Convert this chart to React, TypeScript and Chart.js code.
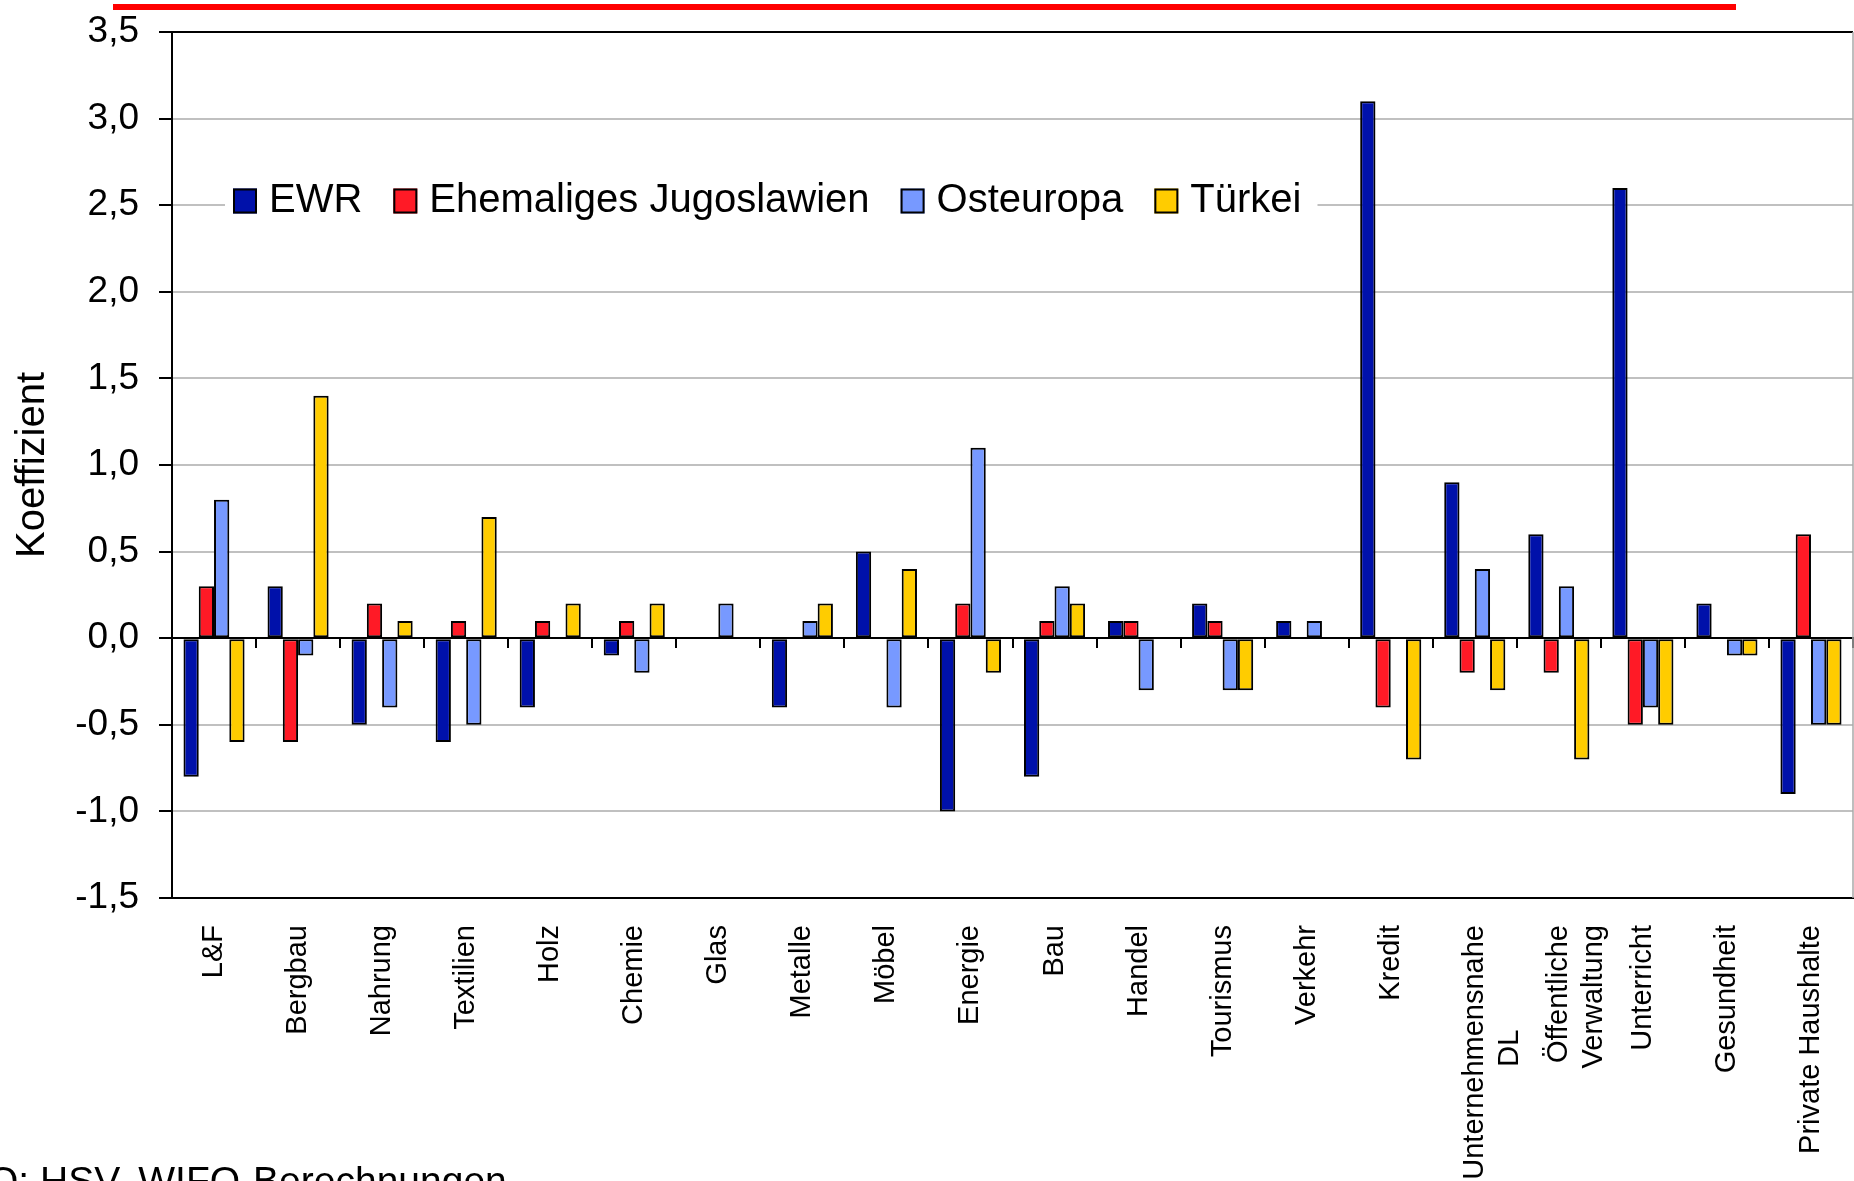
import React, { useEffect, useRef } from 'react';
import { Chart, registerables } from 'chart.js';

Chart.register(...registerables);

// ---- Data ----
const categories: (string | string[])[] = [
  'L&F', 'Bergbau', 'Nahrung', 'Textilien', 'Holz', 'Chemie', 'Glas', 'Metalle', 'Möbel',
  'Energie', 'Bau', 'Handel', 'Tourismus', 'Verkehr', 'Kredit',
  ['Unternehmensnahe', 'DL' + ' '.repeat(13)], ['Öffentliche', 'Verwaltung'],
  'Unterricht', 'Gesundheit', 'Private Haushalte',
];
const seriesNames = ['EWR', 'Ehemaliges Jugoslawien', 'Osteuropa', 'Türkei'];
const ewr = [-0.8, 0.3, -0.5, -0.6, -0.4, -0.1, 0, -0.4, 0.5, -1.0, -0.8, 0.1, 0.2, 0.1, 3.1, 0.9, 0.6, 2.6, 0.2, -0.9];
const jugoslawien = [0.3, -0.6, 0.2, 0.1, 0.1, 0.1, 0, 0, 0, 0.2, 0.1, 0.1, 0.1, 0, -0.4, -0.2, -0.2, -0.5, 0, 0.6];
const osteuropa = [0.8, -0.1, -0.4, -0.5, 0, -0.2, 0.2, 0.1, -0.4, 1.1, 0.3, -0.3, -0.3, 0.1, 0, 0.4, 0.3, -0.4, -0.1, -0.5];
const tuerkei = [-0.6, 1.4, 0.1, 0.7, 0.2, 0.2, 0, 0.2, 0.4, -0.2, 0.2, 0, -0.3, 0, -0.7, -0.3, -0.7, -0.5, -0.1, -0.5];
const seriesColors = ['#0011AA', '#FF1A26', '#7799FF', '#FFCC00'];
const yMin = -1.5;
const yMax = 3.5;
const yStep = 0.5;
const yTitle = 'Koeffizient';
const sourceText = 'Q: HSV, WIFO-Berechnungen';

const FONT = '"Liberation Sans", Arial, Helvetica, sans-serif';

const legendPlugin = {
  id: 'insideLegend',
  beforeDatasetsDraw(chart: any) {
    const { ctx, chartArea } = chart;
    ctx.save();
    ctx.font = `40px ${FONT}`;
    const boxW = 24, boxH = 25, gapText = 12, gapItem = 31;
    const startX = chartArea.left + 61;
    const cy = chartArea.top + 169;
    const items = chart.data.datasets.map((ds: any) => ({
      label: ds.label as string,
      color: ds.backgroundColor as string,
      w: ctx.measureText(ds.label).width,
    }));
    const total = items.reduce((s: number, it: any, i: number) =>
      s + boxW + gapText + it.w + (i < items.length - 1 ? gapItem : 0), 0);
    ctx.fillStyle = '#ffffff';
    ctx.fillRect(startX - 8, cy - 24, total + 24, 48);
    let x = startX;
    items.forEach((it: any) => {
      ctx.fillStyle = it.color;
      ctx.fillRect(x, cy - boxH / 2, boxW, boxH);
      ctx.lineWidth = 2;
      ctx.strokeStyle = '#000';
      ctx.strokeRect(x + 1, cy - boxH / 2 + 1, boxW - 2, boxH - 2);
      ctx.fillStyle = '#000';
      ctx.textBaseline = 'middle';
      ctx.textAlign = 'left';
      ctx.fillText(it.label, x + boxW + gapText, cy);
      x += boxW + gapText + it.w + gapItem;
    });
    ctx.restore();
  },
};

const framePlugin = {
  id: 'frame',
  beforeDatasetsDraw(chart: any) {
    const { ctx, chartArea } = chart;
    ctx.save();
    ctx.strokeStyle = '#000';
    ctx.lineWidth = 2;
    ctx.beginPath();
    ctx.moveTo(chartArea.left, chartArea.top);
    ctx.lineTo(chartArea.right, chartArea.top);
    ctx.stroke();
    ctx.strokeStyle = '#a8a8a8';
    ctx.lineWidth = 1.5;
    ctx.beginPath();
    ctx.moveTo(chartArea.right, chartArea.top);
    ctx.lineTo(chartArea.right, chartArea.bottom);
    ctx.stroke();
    ctx.restore();
  },
};

export default function App() {
  const canvasRef = useRef<HTMLCanvasElement | null>(null);

  useEffect(() => {
    if (!canvasRef.current) return;
    Chart.defaults.font.family = FONT;
    const seriesData = [ewr, jugoslawien, osteuropa, tuerkei];
    const chart = new Chart(canvasRef.current, {
      type: 'bar',
      data: {
        labels: categories,
        datasets: seriesNames.map((name, i) => ({
          label: name,
          data: seriesData[i],
          backgroundColor: seriesColors[i],
          borderColor: '#000',
          borderWidth: 2,
          borderSkipped: false,
          barPercentage: 1,
          categoryPercentage: 0.727,
        })),
      },
      options: {
        responsive: false,
        animation: false,
        layout: { padding: { top: 32, right: 1, left: 0, bottom: 0 } },
        plugins: { legend: { display: false }, tooltip: { enabled: false } },
        scales: {
          x: {
            type: 'category',
            offset: true,
            grid: { display: false, drawTicks: false },
            border: { display: true, color: '#000', width: 2 },
            ticks: {
              minRotation: 90,
              maxRotation: 90,
              autoSkip: false,
              padding: 27,
              color: '#000',
              font: { family: FONT, size: 29 },
            },
            afterFit: (s: any) => {
              s.height = 283;
              s.paddingLeft = 0;
              s.paddingRight = 0;
            },
          },
          x0: {
            type: 'category',
            axis: 'x',
            position: { y: 0 },
            offset: true,
            grid: {
              display: true,
              drawOnChartArea: false,
              offset: true,
              drawTicks: true,
              tickLength: 9,
              color: '#000',
              lineWidth: 2,
            },
            border: { display: true, color: '#000', width: 2 },
            ticks: { display: false },
            afterFit: (s: any) => {
              s.paddingLeft = 0;
              s.paddingRight = 0;
            },
          },
          y: {
            min: yMin,
            max: yMax,
            ticks: {
              stepSize: yStep,
              padding: 20,
              color: '#000',
              font: { family: FONT, size: 37 },
              callback: (v: any) => Number(v).toFixed(1).replace('.', ','),
            },
            grid: { color: '#c0c0c0', lineWidth: 2, tickColor: '#000', tickLength: 13, tickWidth: 2 },
            border: { display: true, color: '#000', width: 2 },
            title: {
              display: true,
              text: yTitle,
              color: '#000',
              font: { family: FONT, size: 40 },
              padding: { top: 9, bottom: 0 },
            },
            afterFit: (s: any) => {
              s.width = 172;
              s.paddingTop = 0;
              s.paddingBottom = 0;
            },
          },
        },
      } as any,
      plugins: [framePlugin, legendPlugin],
    });
    return () => chart.destroy();
  }, []);

  return (
    <div style={{ position: 'absolute', left: 0, top: 0, width: 1854, height: 1181, overflow: 'hidden', background: '#fff' }}>
      <canvas ref={canvasRef} width={1854} height={1181} style={{ position: 'absolute', left: 0, top: 0, width: 1854, height: 1181 }} />
      <div style={{ position: 'absolute', left: 113, top: 4, width: 1623, height: 6, background: '#ff0000' }} />
      <div style={{ position: 'absolute', left: -12, top: 1161, font: `39px/39px ${FONT}`, whiteSpace: 'nowrap', color: '#000' }}>
        {sourceText}
      </div>
    </div>
  );
}
